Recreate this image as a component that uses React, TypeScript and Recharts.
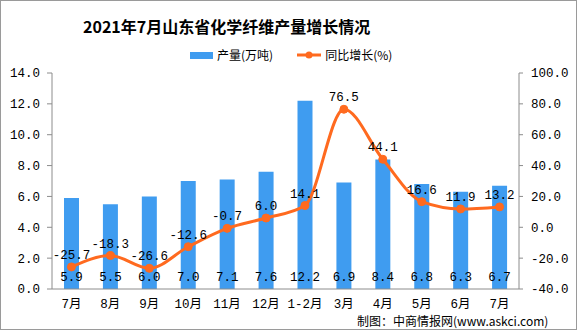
import {
  ComposedChart,
  Bar,
  Line,
  XAxis,
  YAxis,
  LabelList,
} from "recharts";

const months = ["7月", "8月", "9月", "10月", "11月", "12月", "1-2月", "3月", "4月", "5月", "6月", "7月"];
const output = [5.9, 5.5, 6.0, 7.0, 7.1, 7.6, 12.2, 6.9, 8.4, 6.8, 6.3, 6.7];
const growth = [-25.7, -18.3, -26.6, -12.6, -0.7, 6.0, 14.1, 76.5, 44.1, 16.6, 11.9, 13.2];
const leftTicks = [0, 2, 4, 6, 8, 10, 12, 14];
const rightTicks = [-40, -20, 0, 20, 40, 60, 80, 100];
const boundaryTicks = months.map((_, i) => i).concat(months.length);

const data = months.map((m, i) => ({ month: m, output: output[i], growth: growth[i] }));

const BLUE = "#3f9cf0";
const ORANGE = "#ff6a1f";
const AXIS = "#8c8c8c";
const MONO = "'Liberation Mono', 'Noto Sans CJK SC', monospace";
const tickStyle = { fill: "#000", fontSize: 12.5, fontFamily: MONO };

export default function App() {
  return (
    <div style={{ position: "absolute", left: 0, top: 0, width: 577, height: 330, background: "#fff" }}>
      <style>{`body{margin:0}`}</style>
      <div
        style={{
          position: "absolute",
          left: 0,
          top: 0,
          width: 575,
          height: 328,
          border: "1px solid #9a9a9a",
        }}
      />
      <div
        style={{
          position: "absolute",
          left: 83,
          top: 15,
          fontSize: 16,
          fontWeight: "bold",
          fontFamily: "'Noto Sans CJK SC', serif",
          color: "#000",
          lineHeight: "22px",
          whiteSpace: "nowrap",
        }}
      >
        2021年7月山东省化学纤维产量增长情况
      </div>
      <div
        style={{
          position: "absolute",
          top: 46,
          left: 190,
          display: "flex",
          alignItems: "center",
          fontSize: 12,
          fontFamily: "'Noto Sans CJK SC', sans-serif",
          lineHeight: "18px",
          whiteSpace: "nowrap",
        }}
      >
        <span style={{ display: "inline-block", width: 23, height: 7, background: BLUE, marginRight: 4 }} />
        <span>产量(万吨)</span>
        <svg width={24} height={10} style={{ marginLeft: 24, marginRight: 4 }}>
          <line x1={0} y1={5} x2={24} y2={5} stroke={ORANGE} strokeWidth={3} />
          <circle cx={12} cy={5} r={3.5} fill={ORANGE} />
        </svg>
        <span>同比增长(%)</span>
      </div>
      <div
        style={{
          position: "absolute",
          left: 357,
          top: 314,
          fontSize: 12,
          fontFamily: "'Noto Sans CJK SC', sans-serif",
          lineHeight: "14px",
          whiteSpace: "nowrap",
        }}
      >
        制图：中商情报网(www.askci.com)
      </div>
      <ComposedChart
        width={577}
        height={330}
        data={data}
        margin={{ top: 73, right: 0, bottom: 11, left: 0 }}
        style={{ position: "absolute", left: 0, top: 0 }}
      >
        <XAxis
          dataKey="month"
          height={30}
          tickLine={false}
          axisLine={{ stroke: AXIS }}
          tick={tickStyle}
          tickMargin={4}
          interval={0}
        />
        <XAxis
          xAxisId="b"
          type="number"
          domain={[0, months.length]}
          ticks={boundaryTicks}
          height={0}
          tick={false}
          tickLine={{ stroke: AXIS }}
          tickSize={5}
          axisLine={false}
        />
        <YAxis
          yAxisId="left"
          width={52}
          domain={[0, 14]}
          ticks={leftTicks}
          tickFormatter={(v: number) => v.toFixed(1)}
          tick={tickStyle}
          tickSize={5}
          tickMargin={7}
          axisLine={{ stroke: AXIS }}
          tickLine={{ stroke: AXIS }}
        />
        <YAxis
          yAxisId="right"
          orientation="right"
          width={58}
          domain={[-40, 100]}
          ticks={rightTicks}
          tickFormatter={(v: number) => v.toFixed(1)}
          tick={{ ...tickStyle, textAnchor: "start" }}
          tickSize={4}
          tickMargin={8}
          axisLine={{ stroke: AXIS }}
          tickLine={{ stroke: AXIS }}
        />
        <Bar yAxisId="left" dataKey="output" fill={BLUE} barSize={15} isAnimationActive={false}>
          <LabelList
            dataKey="output"
            position="insideBottom"
            offset={8}
            formatter={(v: any) => Number(v).toFixed(1)}
            style={{ fill: "#000", fontSize: 12.5, fontFamily: MONO }}
          />
        </Bar>
        <Line
          yAxisId="right"
          dataKey="growth"
          type="monotone"
          stroke={ORANGE}
          strokeWidth={3}
          dot={{ r: 4, fill: ORANGE, stroke: ORANGE, strokeWidth: 1 }}
          isAnimationActive={false}
        >
          <LabelList
            dataKey="growth"
            position="top"
            offset={8}
            formatter={(v: any) => Number(v).toFixed(1)}
            style={{ fill: "#000", fontSize: 12.5, fontFamily: MONO }}
          />
        </Line>
      </ComposedChart>
    </div>
  );
}
